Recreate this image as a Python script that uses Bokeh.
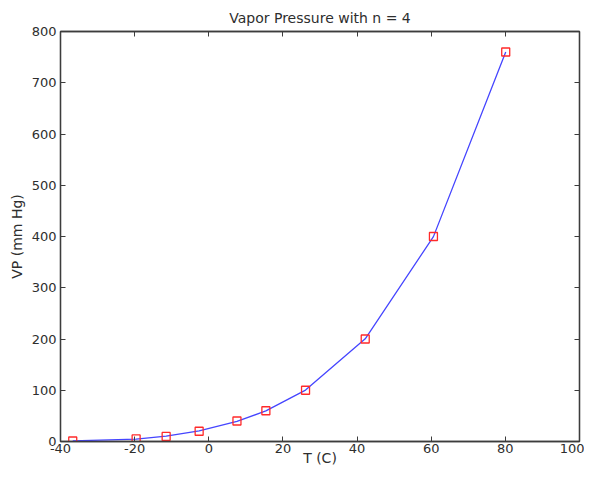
from bokeh.plotting import figure
from bokeh.models import LinearAxis, Range1d, FixedTicker
from bokeh.embed import file_html
from bokeh.resources import INLINE

# data
T = [-36.7, -19.6, -11.5, -2.6, 7.6, 15.4, 26.1, 42.2, 60.6, 80.1]
P = [1, 5, 10, 20, 40, 60, 100, 200, 400, 760]
P_fit = [1.05, 4.52, 10.42, 20.74, 39.16, 59.69, 100.34, 200.26, 399.77, 760.05]
x_ticks = [-40, -20, 0, 20, 40, 60, 80, 100]
y_ticks = [0, 100, 200, 300, 400, 500, 600, 700, 800]

FONT = "DejaVu Sans"
AX = "#3c3c3c"
LBL = "#2e2e2e"

p = figure(width=584, height=469, output_backend="svg", toolbar_location=None,
           x_range=Range1d(-40, 100), y_range=Range1d(0, 800),
           title="Vapor Pressure with n = 4")
p.min_border_left = 60
p.min_border_right = 5
p.min_border_top = 31
p.min_border_bottom = 28
p.background_fill_color = "white"
p.border_fill_color = "white"
p.grid.visible = False
p.outline_line_color = AX
p.outline_line_width = 1.3

p.title.align = "center"
p.title.text_font = FONT
p.title.text_font_size = "14px"
p.title.text_font_style = "normal"
p.title.text_color = LBL
p.title.offset = 0
p.title.standoff = 11

def style(ax, labels=True):
    ax.axis_line_color = AX
    ax.axis_line_width = 1.3
    ax.major_tick_in = 5
    ax.major_tick_out = 0
    ax.major_tick_line_color = AX
    ax.minor_tick_line_color = None
    if labels:
        ax.major_label_text_font = FONT
        ax.major_label_text_font_size = "13px"
        ax.major_label_text_color = LBL
        ax.major_label_standoff = 2
        ax.axis_label_text_font = FONT
        ax.axis_label_text_font_size = "14px"
        ax.axis_label_text_font_style = "normal"
        ax.axis_label_text_color = LBL
        ax.axis_label_standoff = -6
    else:
        ax.major_label_overrides = {t: "" for t in ax.ticker.ticks}
        ax.major_label_standoff = 0

p.xaxis.ticker = FixedTicker(ticks=x_ticks)
p.yaxis.ticker = FixedTicker(ticks=y_ticks)
p.xaxis[0].major_label_overrides = {t: str(t) for t in x_ticks if t < 0}
p.xaxis.axis_label = "T (C)"
p.yaxis.axis_label = "VP (mm Hg)"
style(p.xaxis[0])
style(p.yaxis[0])
p.yaxis[0].axis_label_standoff = 4
p.yaxis[0].major_label_standoff = 4

top = LinearAxis(ticker=FixedTicker(ticks=x_ticks))
right = LinearAxis(ticker=FixedTicker(ticks=y_ticks))
style(top, labels=False)
style(right, labels=False)
p.add_layout(top, "above")
p.add_layout(right, "right")

p.line(T, P_fit, line_color="#4545ff", line_width=1.3)
p.scatter(T, P, marker="square", size=8, line_color="#ff2a2a", fill_color=None, line_width=1.3)

open("out.html", "w").write(file_html(p, INLINE))
